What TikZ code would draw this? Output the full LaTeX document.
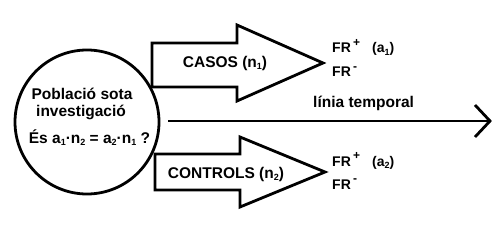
\documentclass[tikz,border=0pt]{standalone}
\usepackage{fontspec}
\setmainfont{Liberation Sans}
\newcommand\sbs[1]{\raisebox{-0.3ex}{\fontsize{9}{9}\selectfont #1}}
\newcommand\sps[1]{\raisebox{6.5pt}{\fontsize{12}{12}\selectfont #1}}
\begin{document}
\begin{tikzpicture}[x=1pt,y=-1pt,
  thick line/.style={line width=2.8pt},
  lbl/.style={font=\fontsize{15.5}{18}\selectfont\bfseries, inner sep=0pt},
  frlbl/.style={font=\fontsize{14}{16}\selectfont\bfseries, inner sep=0pt, anchor=base west},
  blockarrow/.style={thick line, line join=miter, fill=white}]
\useasboundingbox (0,0) rectangle (500,227);
% population circle
\node[circle, draw, thick line, minimum size=144pt, inner sep=0pt] (pop) at (87,122) {};
\node[lbl, anchor=base] (pl1) at (82,100) {Població sota};
\node[lbl, anchor=base] (pl2) at (81,117) {investigació};
\node[lbl, anchor=base] (pl3) at (89.5,143) {És a\sbs{1}·n\sbs{2} = a\sbs{2}·n\sbs{1} ?};
% block arrow 1
\draw[blockarrow] (152,43) -- (237,43) -- (237,25) -- (323,63) -- (237,101) -- (237,87) -- (152,87) -- cycle;
\node[lbl] (casos) at (225,63) {CASOS (n\sbs{1})};
% block arrow 2
\draw[blockarrow] (155,154) -- (240,154) -- (240,137) -- (325,172) -- (240,207) -- (240,190) -- (155,190) -- cycle;
\node[lbl] (controls) at (226,174) {CONTROLS (n\sbs{2})};
% FR labels
\node[frlbl] (frp1) at (332,53) {FR\,\sps{+}};
\node[frlbl] (a1) at (372,53) {(a\sbs{1})};
\node[frlbl] (frm1) at (332,77) {FR\,\sps{-}};
\node[frlbl] (frp2) at (332,166) {FR\,\sps{+}};
\node[frlbl] (a2) at (372,166) {(a\sbs{2})};
\node[frlbl] (frm2) at (332,189) {FR\,\sps{-}};
% timeline
\coordinate (tstart) at (168,121);
\coordinate (tend) at (490,121);
\draw[thick line] (tstart) -- (tend);
\draw[thick line, line join=miter] (tend) ++(-15,-16) -- (tend) -- ++(-15,16);
\node[lbl, anchor=base west] (tl) at (313,108) {línia temporal};
\end{tikzpicture}
\end{document}
